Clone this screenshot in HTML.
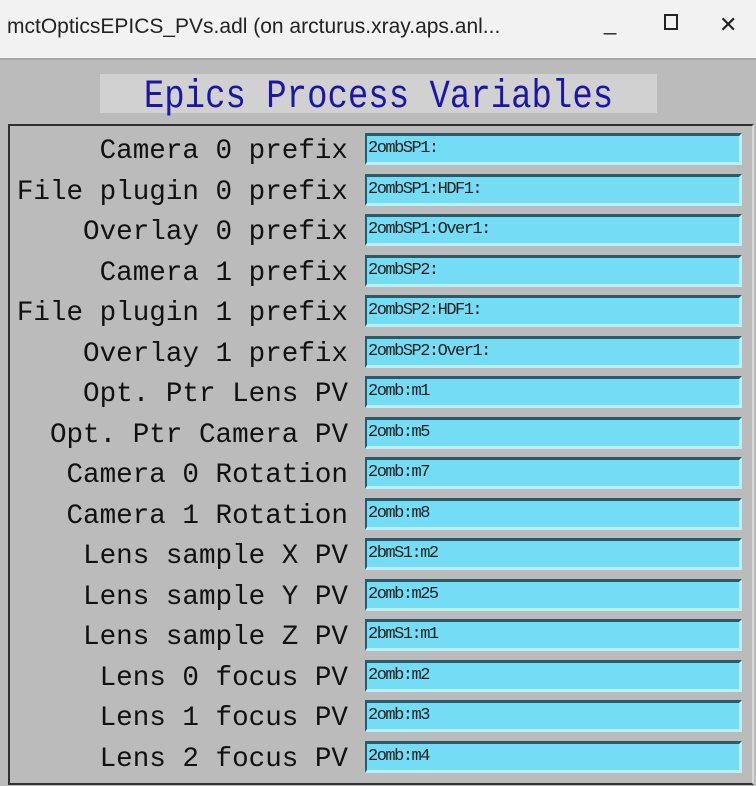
<!DOCTYPE html>
<html><head><style>
body{margin:0;width:756px;height:786px;background:#bcbbbc;position:relative;overflow:hidden;font-family:"Liberation Mono",monospace}
.tb{position:absolute;left:0;top:0;width:756px;height:58px;background:#f3f2f2;border-bottom:2px solid #a8a8a8}
.tt{position:absolute;left:7px;top:15px;font-family:"Liberation Sans",sans-serif;font-size:21px;color:#222}
.ic{position:absolute;top:12px;font-family:"Liberation Sans",sans-serif;font-size:22px;color:#222}
.title{position:absolute;left:100px;top:74px;width:557px;height:39px;background:#d2d1d2}
.title span{position:absolute;left:0;right:0;top:1px;text-align:center;font-size:40px;color:#1c16a8;transform:scaleX(0.85);font-family:"Liberation Mono",monospace}
.frame{position:absolute;left:8px;top:124px;width:742px;height:657px;border:2px solid #303030;border-right-color:#d8d8d8;border-bottom-color:#303030}
.lbl{position:absolute;right:408px;font-size:27.6px;color:#111;white-space:pre;line-height:30px}
.f{position:absolute;left:365px;width:371px;height:26px;background:#74dcf4;border-top:3px solid #2e5a68;border-left:2px solid #2e5a68;border-bottom:3px solid #b6f0fb;border-right:3px solid #b6f0fb;font-size:17px;line-height:26px;color:#222;padding-left:1px;box-sizing:content-box;letter-spacing:-1.5px}
</style></head><body>
<div class="tb"><div class="tt">mctOpticsEPICS_PVs.adl (on arcturus.xray.aps.anl...</div>
<div class="ic" style="left:604px;top:10px">_</div><div class="ic" style="left:664px;top:14px;width:10px;height:12px;border:2px solid #222;font-size:0"></div><div class="ic" style="left:719px">✕</div></div>
<div class="title"><span>Epics Process Variables</span></div>
<div class="frame"></div>
<div id="rows"></div>
<script>
var d=[["Camera 0 prefix","2ombSP1:"],["File plugin 0 prefix","2ombSP1:HDF1:"],["Overlay 0 prefix","2ombSP1:Over1:"],["Camera 1 prefix","2ombSP2:"],["File plugin 1 prefix","2ombSP2:HDF1:"],["Overlay 1 prefix","2ombSP2:Over1:"],["Opt. Ptr Lens PV","2omb:m1"],["Opt. Ptr Camera PV","2omb:m5"],["Camera 0 Rotation","2omb:m7"],["Camera 1 Rotation","2omb:m8"],["Lens sample X PV","2bmS1:m2"],["Lens sample Y PV","2omb:m25"],["Lens sample Z PV","2bmS1:m1"],["Lens 0 focus PV","2omb:m2"],["Lens 1 focus PV","2omb:m3"],["Lens 2 focus PV","2omb:m4"]];
var h="";
for(var i=0;i<d.length;i++){var y=133+i*40.5;
h+='<div class="lbl" style="top:'+(y+4)+'px">'+d[i][0]+'</div><div class="f" style="top:'+y+'px">'+d[i][1]+'</div>';}
document.getElementById("rows").innerHTML=h;
</script>
</body></html>
